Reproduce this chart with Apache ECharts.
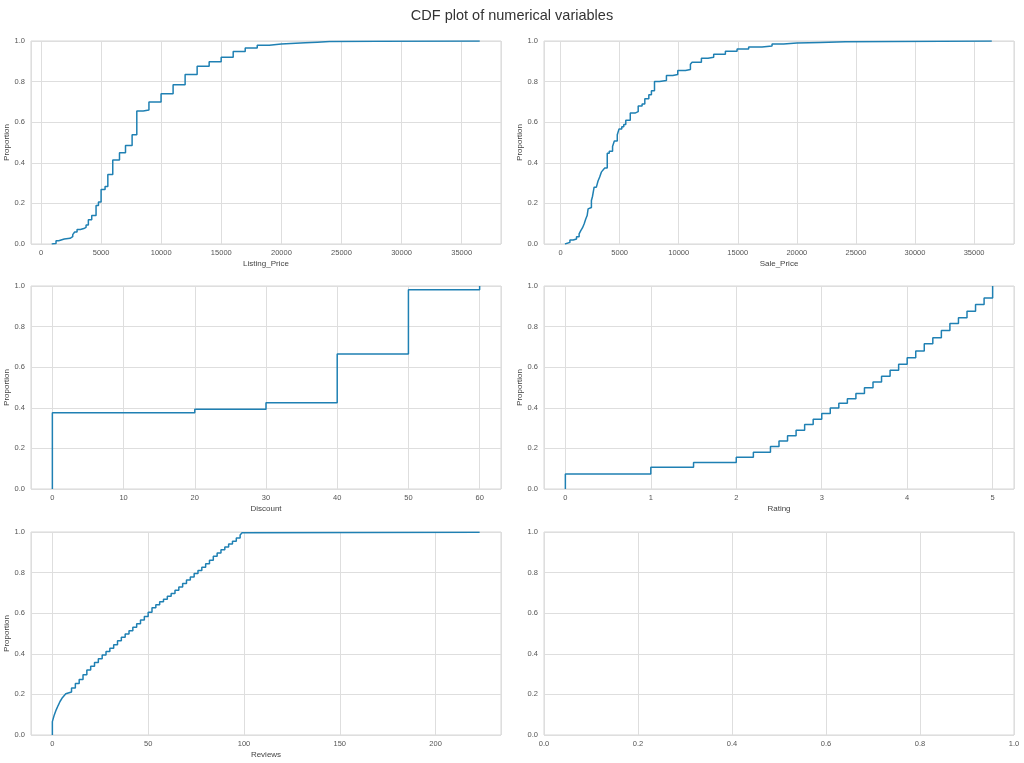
<!DOCTYPE html>
<html>
<head>
<meta charset="utf-8">
<title>CDF plot of numerical variables</title>
<script src="https://cdn.jsdelivr.net/npm/echarts@6/dist/echarts.min.js"></script>
<style>
  html, body { margin: 0; padding: 0; background: #ffffff; }
  #chart { width: 1024px; height: 763px; }
</style>
</head>
<body>
<div id="chart"></div>
<script>
// ECDF steps: value where the step happens, proportion after it
var listingX = [890, 1250, 1470, 1940, 2420, 2640, 2800, 3000, 3280, 3560, 3750, 3940, 4220, 4580, 4780,
  5000, 5330, 5560, 5970, 6530, 7030, 7580, 7970, 8500, 8980, 9990, 10990, 11990, 12990, 13990,
  14990, 15990, 16990, 17990, 18990, 19990, 21990, 22990, 23990, 27990, 36500]
var listingP = [0.003, 0.016, 0.025, 0.028, 0.036, 0.046, 0.059, 0.071, 0.076, 0.082, 0.094, 0.12, 0.14, 0.19, 0.207,
  0.268, 0.283, 0.342, 0.414, 0.449, 0.485, 0.538, 0.655, 0.66, 0.70, 0.74, 0.785, 0.835, 0.876, 0.898,
  0.92, 0.948, 0.966, 0.979, 0.985, 0.991, 0.994, 0.997, 0.9985, 0.9995, 1.0]

var saleX = [370, 505, 790, 1070, 1350, 1570, 1710, 1850, 2000, 2130, 2250, 2330, 2470, 2610, 2700,
  2840, 3030, 3170, 3310, 3450, 3600, 3740, 3950, 4120, 4400, 4550, 4800, 4950, 5180, 5350,
  5520, 5900, 6300, 6570, 6900, 7130, 7470, 7690, 7950, 8370, 8960, 9500, 9920, 10570, 10990,
  11130, 11920, 12480, 12960, 13950, 14940, 15920, 17050, 17900, 18880, 20000, 21980, 24100, 28040, 36500]
var saleP = [0.003, 0.008, 0.02, 0.025, 0.036, 0.05, 0.066, 0.079, 0.1, 0.123, 0.14, 0.173, 0.18, 0.214, 0.234,
  0.28, 0.288, 0.31, 0.33, 0.354, 0.365, 0.375, 0.447, 0.457, 0.48, 0.507, 0.538, 0.567, 0.578, 0.589,
  0.609, 0.645, 0.652, 0.68, 0.69, 0.715, 0.735, 0.755, 0.8, 0.805, 0.83, 0.835, 0.855, 0.86, 0.885,
  0.895, 0.915, 0.92, 0.935, 0.95, 0.96, 0.97, 0.975, 0.985, 0.99, 0.993, 0.996, 0.998, 0.9995, 1.0]

var discountX = [0, 20, 30, 40, 50, 60]
var discountP = [0.376, 0.393, 0.425, 0.665, 0.982, 1.0]

var ratingX = [0, 1, 1.5, 2, 2.2, 2.4, 2.5, 2.6, 2.7, 2.8, 2.9, 3.0, 3.1, 3.2, 3.3, 3.4,
  3.5, 3.6, 3.7, 3.8, 3.9, 4.0, 4.1, 4.2, 4.3, 4.4, 4.5, 4.6, 4.7, 4.8, 4.9, 5.0]
var ratingP = [0.074, 0.107, 0.13, 0.157, 0.181, 0.209, 0.237, 0.262, 0.29, 0.318, 0.343, 0.372, 0.399, 0.423, 0.445, 0.47,
  0.499, 0.527, 0.555, 0.585, 0.614, 0.647, 0.68, 0.715, 0.745, 0.781, 0.815, 0.843, 0.876, 0.909, 0.941, 1.0]

var reviewsX = [0, 1, 2, 3, 4, 5, 6, 7, 8, 10, 12, 14, 16, 18, 20, 22, 24, 26, 28, 30, 32, 34, 36, 38, 40,
  42, 44, 46, 48, 50, 52, 54, 56, 58, 60, 62, 64, 66, 68, 70, 72, 74, 76, 78, 80, 82, 84, 86, 88,
  90, 92, 94, 96, 98, 99, 100, 223]
var reviewsP = [0.066, 0.099, 0.124, 0.145, 0.165, 0.181, 0.192, 0.203, 0.212, 0.232, 0.254, 0.274, 0.297, 0.32, 0.339,
  0.357, 0.376, 0.394, 0.411, 0.427, 0.444, 0.464, 0.481, 0.497, 0.514, 0.531, 0.548, 0.566, 0.584, 0.605,
  0.627, 0.642, 0.656, 0.669, 0.683, 0.697, 0.713, 0.729, 0.746, 0.764, 0.778, 0.795, 0.81, 0.826, 0.843,
  0.861, 0.88, 0.897, 0.913, 0.926, 0.941, 0.955, 0.97, 0.985, 0.996, 0.9985, 1.0]

var yTicks = [0, 0.2, 0.4, 0.6, 0.8, 1.0]

var lineColor = '#1f80b3'
var gridColor = '#dedede'
var textColor = '#555555'
var font = 'Liberation Sans, Arial, sans-serif'

// panels: [left, top, name, xmin, xmax, splitNumber]
var panels = [
  { left: 31, top: 41, name: 'Listing_Price', min: -832, max: 38270, split: 8, x: listingX, p: listingP },
  { left: 544, top: 41, name: 'Sale_Price', min: -1403, max: 38380, split: 8, x: saleX, p: saleP },
  { left: 31, top: 286, name: 'Discount', min: -3, max: 63, split: 7, x: discountX, p: discountP },
  { left: 544, top: 286, name: 'Rating', min: -0.25, max: 5.25, split: 5, x: ratingX, p: ratingP },
  { left: 31, top: 532, name: 'Reviews', min: -11.15, max: 234.15, split: 5, x: reviewsX, p: reviewsP },
  { left: 544, top: 532, name: '', min: 0, max: 1, split: 5, x: null, p: null }
]

function ecdf(xs, ps) {
  // start at (x0, 0) so the first jump is drawn, then hold each level (steps-post)
  var d = [[xs[0], 0]]
  for (var i = 0; i < xs.length; i++) d.push([xs[i], ps[i]])
  return d
}

var grids = [], xAxes = [], yAxes = [], series = []
panels.forEach(function (pn, i) {
  grids.push({
    left: pn.left, top: pn.top, width: 470, height: 203,
    show: true, borderColor: '#d6d6d6', borderWidth: 1, backgroundColor: '#ffffff'
  })
  var empty = !pn.x
  xAxes.push({
    type: 'value', gridIndex: i, min: pn.min, max: pn.max,
    splitNumber: pn.split,
    interval: empty ? 0.2 : undefined,
    name: pn.name, nameLocation: 'middle', nameGap: 16,
    nameTextStyle: { fontSize: 8, color: '#444', fontFamily: font },
    axisLine: { show: false }, axisTick: { show: false },
    axisLabel: {
      fontSize: 7.5, color: textColor, fontFamily: font, margin: 5,
      showMinLabel: empty, showMaxLabel: empty,
      formatter: empty ? function (v) { return v.toFixed(1) } : function (v) { return String(v) }
    },
    splitLine: { show: true, lineStyle: { color: gridColor, width: 1 } }
  })
  yAxes.push({
    type: 'value', gridIndex: i, min: 0, max: 1, interval: 0.2,
    name: empty ? '' : 'Proportion', nameLocation: 'middle', nameGap: 20,
    nameTextStyle: { fontSize: 8, color: '#444', fontFamily: font },
    axisLine: { show: false }, axisTick: { show: false },
    axisLabel: {
      fontSize: 7.5, color: textColor, fontFamily: font, margin: 6,
      formatter: function (v) { return v.toFixed(1) }
    },
    splitLine: { show: true, lineStyle: { color: gridColor, width: 1 } }
  })
  if (!empty) {
    series.push({
      type: 'line', step: 'end', xAxisIndex: i, yAxisIndex: i,
      showSymbol: false, symbol: 'none',
      lineStyle: { color: lineColor, width: 1.5 },
      data: ecdf(pn.x, pn.p)
    })
  }
})

var myChart = echarts.init(document.getElementById('chart'))
var option = {
  animation: false,
  backgroundColor: '#ffffff',
  title: {
    text: 'CDF plot of numerical variables', left: 'center', top: 3,
    textStyle: { fontSize: 14.5, fontWeight: 'normal', color: '#333333', fontFamily: font }
  },
  grid: grids,
  xAxis: xAxes,
  yAxis: yAxes,
  series: series
}
myChart.setOption(option)
</script>
</body>
</html>
